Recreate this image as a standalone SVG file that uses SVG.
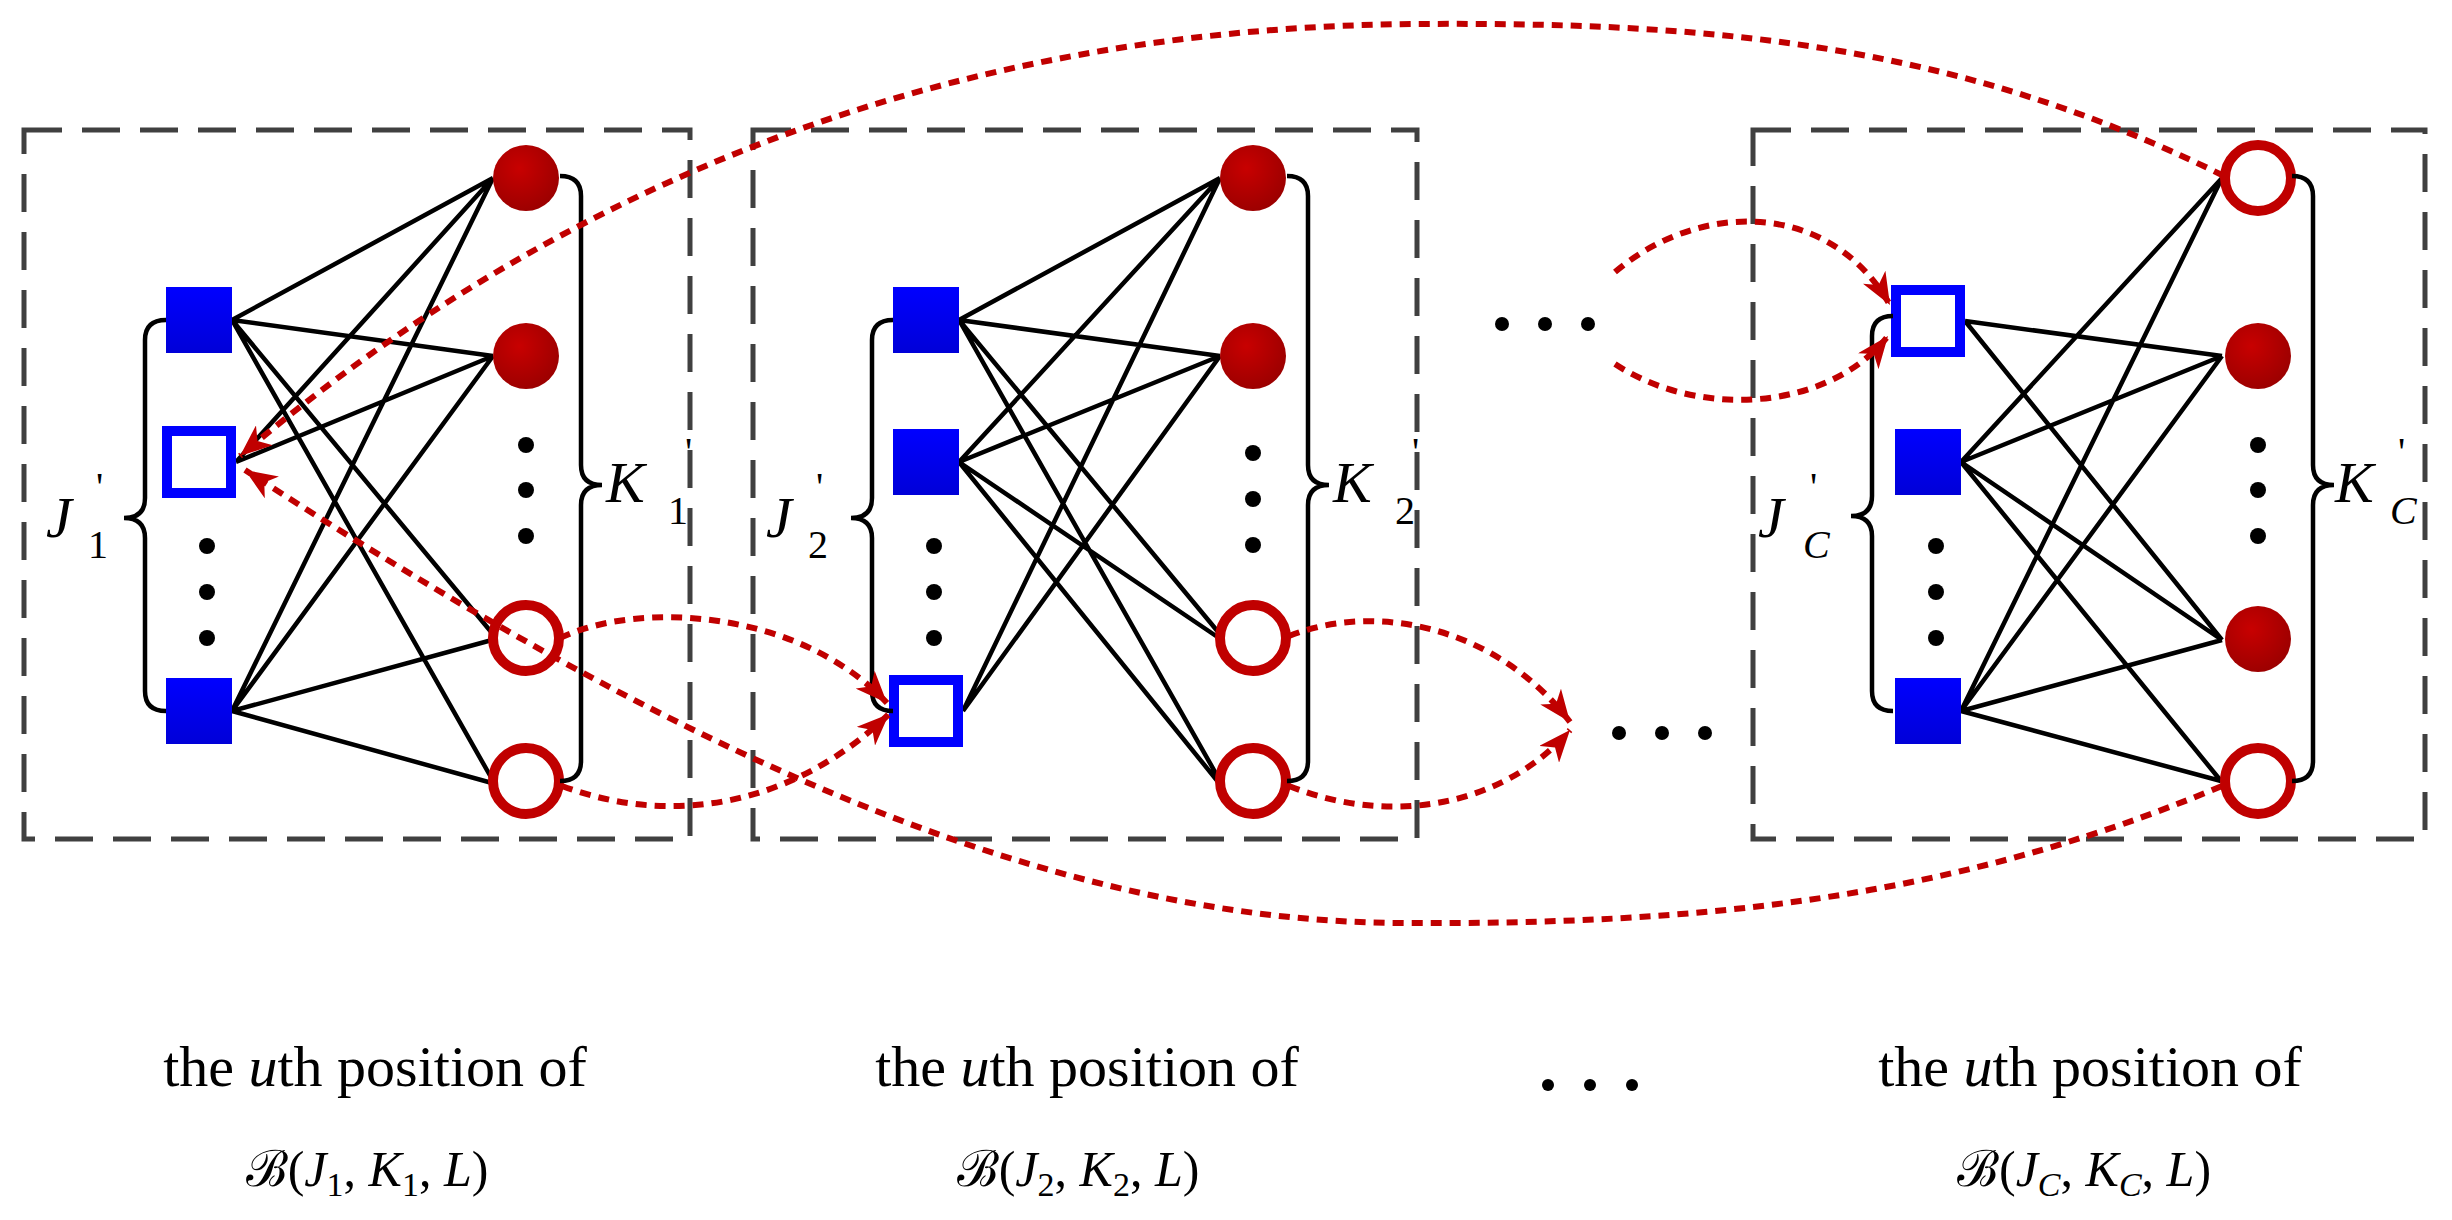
<svg xmlns="http://www.w3.org/2000/svg" width="2452" height="1220" viewBox="0 0 2452 1220">
<defs>
<radialGradient id="rg" cx="0.4" cy="0.35" r="0.7"><stop offset="0" stop-color="#C80000"/><stop offset="1" stop-color="#9A0000"/></radialGradient>
<linearGradient id="bg" x1="0" y1="0" x2="0" y2="1"><stop offset="0" stop-color="#0000FF"/><stop offset="1" stop-color="#0000D8"/></linearGradient>
<marker id="ah" markerUnits="userSpaceOnUse" markerWidth="34" markerHeight="26" refX="32" refY="13" orient="auto"><path d="M0,0 L32,13 L0,26 L9,13 z" fill="#C00000"/></marker>
</defs>
<style>
.box{fill:none;stroke:#404040;stroke-width:5;stroke-dasharray:38 20}
.e{stroke:#000;stroke-width:4.5;fill:none}
.br{stroke:#000;stroke-width:4.5;fill:none}
.fs{fill:url(#bg)}
.hs{fill:#fff;stroke:#0000FF;stroke-width:10}
.fc{fill:url(#rg)}
.hc{fill:#fff;stroke:#C00000;stroke-width:10}
.d{fill:#000}
.r{fill:none;stroke:#C00000;stroke-width:6;stroke-dasharray:11 8;marker-end:url(#ah)}
.lb{font-family:"Liberation Serif",serif;font-style:italic;font-size:58px}
.sb{font-family:"Liberation Serif",serif;font-size:40px}
.cap{font-family:"Liberation Serif",serif;font-size:58px;text-anchor:middle}
.fm{font-family:"Liberation Serif","DejaVu Serif",serif;font-size:50px;text-anchor:middle}
</style>

<!-- Block 1 -->
<g id="block1">
<rect class="box" x="24" y="130" width="666" height="709"/>
<g id="b1-edges">
<path class="e" d="M232,320 L493,178 M232,320 L493,356 M232,320 L492,633 M232,320 L492,779 M236,462 L493,178 M236,462 L493,356 M232,711 L493,178 M232,711 L493,356 M232,711 L492,640 M232,711 L492,783"/>
</g>
<g id="b1-j1"><rect class="fs" x="166" y="287" width="66" height="66"/></g>
<g id="b1-j2"><rect class="hs" x="167" y="431" width="64" height="62"/></g>
<g id="b1-j3"><rect class="fs" x="166" y="678" width="66" height="66"/></g>
<g id="b1-k1"><circle class="fc" cx="526" cy="178" r="33"/></g>
<g id="b1-k2"><circle class="fc" cx="526" cy="356" r="33"/></g>
<g id="b1-k3"><circle class="hc" cx="526" cy="638" r="33"/></g>
<g id="b1-k4"><circle class="hc" cx="526" cy="781" r="33"/></g>
<g class="d"><circle cx="207" cy="546" r="8"/><circle cx="207" cy="592" r="8"/><circle cx="207" cy="638" r="8"/><circle cx="526" cy="445" r="8"/><circle cx="526" cy="490" r="8"/><circle cx="526" cy="536" r="8"/></g>
<path class="br" d="M166,320 q-21,0 -21,20 V498 q0,20 -21,20 q21,0 21,20 V691 q0,20 21,20"/>
<path class="br" d="M560,176 q21,0 21,20 V465 q0,20 21,20 q-21,0 -21,20 V761 q0,20 -21,20"/>
<text class="lb" x="46" y="537">J</text><text class="sb" x="88" y="558">1</text><text class="sb" x="96" y="500">'</text>
<text class="lb" x="606" y="502">K</text><text class="sb" x="668" y="524">1</text><text class="sb" x="685" y="465">'</text>
</g>

<!-- Block 2 -->
<g id="block2">
<rect class="box" x="753" y="130" width="664" height="709"/>
<g id="b2-edges">
<path class="e" d="M959,320 L1220,178 M959,320 L1220,356 M959,320 L1219,633 M959,320 L1219,779 M959,462 L1220,178 M959,462 L1220,356 M959,462 L1219,638 M959,462 L1219,783 M963,711 L1220,178 M963,711 L1220,356"/>
</g>
<g id="b2-j1"><rect class="fs" x="893" y="287" width="66" height="66"/></g>
<g id="b2-j2"><rect class="fs" x="893" y="429" width="66" height="66"/></g>
<g id="b2-j3"><rect class="hs" x="894" y="680" width="64" height="62"/></g>
<g id="b2-k1"><circle class="fc" cx="1253" cy="178" r="33"/></g>
<g id="b2-k2"><circle class="fc" cx="1253" cy="356" r="33"/></g>
<g id="b2-k3"><circle class="hc" cx="1253" cy="638" r="33"/></g>
<g id="b2-k4"><circle class="hc" cx="1253" cy="781" r="33"/></g>
<g class="d"><circle cx="934" cy="546" r="8"/><circle cx="934" cy="592" r="8"/><circle cx="934" cy="638" r="8"/><circle cx="1253" cy="453" r="8"/><circle cx="1253" cy="499" r="8"/><circle cx="1253" cy="545" r="8"/></g>
<path class="br" d="M893,320 q-21,0 -21,20 V498 q0,20 -21,20 q21,0 21,20 V691 q0,20 21,20"/>
<path class="br" d="M1287,176 q21,0 21,20 V465 q0,20 21,20 q-21,0 -21,20 V761 q0,20 -21,20"/>
<text class="lb" x="766" y="537">J</text><text class="sb" x="808" y="558">2</text><text class="sb" x="816" y="500">'</text>
<text class="lb" x="333" y="502" transform="translate(1000,0)">K</text><text class="sb" x="1395" y="524">2</text><text class="sb" x="1412" y="465">'</text>
</g>

<!-- Block C -->
<g id="blockC">
<rect class="box" x="1753" y="130" width="672" height="709"/>
<g id="bC-edges">
<path class="e" d="M1965,321 L2222,356 M1965,321 L2222,640 M1961,462 L2222,178 M1961,462 L2222,356 M1961,462 L2222,640 M1961,462 L2221,781 M1961,711 L2222,178 M1961,711 L2222,356 M1961,711 L2222,640 M1961,711 L2221,781"/>
</g>
<g id="bC-j1"><rect class="hs" x="1896" y="290" width="64" height="62"/></g>
<g id="bC-j2"><rect class="fs" x="1895" y="429" width="66" height="66"/></g>
<g id="bC-j3"><rect class="fs" x="1895" y="678" width="66" height="66"/></g>
<g id="bC-k1"><circle class="hc" cx="2258" cy="178" r="33"/></g>
<g id="bC-k2"><circle class="fc" cx="2258" cy="356" r="33"/></g>
<g id="bC-k3"><circle class="fc" cx="2258" cy="639" r="33"/></g>
<g id="bC-k4"><circle class="hc" cx="2258" cy="781" r="33"/></g>
<g class="d"><circle cx="1936" cy="546" r="8"/><circle cx="1936" cy="592" r="8"/><circle cx="1936" cy="638" r="8"/><circle cx="2258" cy="445" r="8"/><circle cx="2258" cy="490" r="8"/><circle cx="2258" cy="536" r="8"/></g>
<path class="br" d="M1893,316 q-21,0 -21,20 V496 q0,20 -21,20 q21,0 21,20 V691 q0,20 21,20"/>
<path class="br" d="M2292,176 q21,0 21,20 V465 q0,20 21,20 q-21,0 -21,20 V761 q0,20 -21,20"/>
<text class="lb" x="1758" y="537">J</text><text class="sb" x="1803" y="558" font-style="italic">C</text><text class="sb" x="1810" y="500">'</text>
<text class="lb" x="2335" y="502">K</text><text class="sb" x="2390" y="524" font-style="italic">C</text><text class="sb" x="2398" y="465">'</text>
</g>

<!-- ellipses -->
<g id="ellipsis-top" class="d"><circle cx="1502" cy="324" r="7"/><circle cx="1545" cy="324" r="7"/><circle cx="1588" cy="324" r="7"/></g>
<g id="ellipsis-mid" class="d"><circle cx="1619" cy="733" r="7"/><circle cx="1662" cy="733" r="7"/><circle cx="1705" cy="733" r="7"/></g>

<!-- connectors -->
<g id="connectors">
<path class="r" d="M2224,176 C1950,40 1700,22 1413,24 C1000,28 600,150 240,456"/>
<path class="r" d="M2222,786 C1950,900 1700,925 1397,923 C1000,920 600,700 245,470"/>
<path class="r" d="M560,638 C640,600 800,610 887,703"/>
<path class="r" d="M562,786 C680,830 800,800 889,714"/>
<path class="r" d="M1289,636 C1380,600 1500,630 1570,722"/>
<path class="r" d="M1289,786 C1400,830 1510,800 1570,730"/>
<path class="r" d="M1615,272 C1700,200 1830,200 1890,305"/>
<path class="r" d="M1615,364 C1700,420 1830,410 1888,336"/>
</g>

<!-- captions -->
<g id="captions">
<text class="cap" x="375" y="1086">the <tspan font-style="italic">u</tspan>th position of</text>
<text class="cap" x="1087" y="1086">the <tspan font-style="italic">u</tspan>th position of</text>
<text class="cap" x="2090" y="1086">the <tspan font-style="italic">u</tspan>th position of</text>
<g class="d"><circle cx="1548" cy="1085" r="6"/><circle cx="1590" cy="1085" r="6"/><circle cx="1632" cy="1085" r="6"/></g>
<text class="fm" x="367" y="1186">ℬ(<tspan font-style="italic">J</tspan><tspan font-size="34" dy="10">1</tspan><tspan dy="-10">, </tspan><tspan font-style="italic">K</tspan><tspan font-size="34" dy="10">1</tspan><tspan dy="-10">, </tspan><tspan font-style="italic">L</tspan>)</text>
<text class="fm" x="1078" y="1186">ℬ(<tspan font-style="italic">J</tspan><tspan font-size="34" dy="10">2</tspan><tspan dy="-10">, </tspan><tspan font-style="italic">K</tspan><tspan font-size="34" dy="10">2</tspan><tspan dy="-10">, </tspan><tspan font-style="italic">L</tspan>)</text>
<text class="fm" x="2084" y="1186">ℬ(<tspan font-style="italic">J</tspan><tspan font-size="34" font-style="italic" dy="10">C</tspan><tspan dy="-10">, </tspan><tspan font-style="italic">K</tspan><tspan font-size="34" font-style="italic" dy="10">C</tspan><tspan dy="-10">, </tspan><tspan font-style="italic">L</tspan>)</text>
</g>
</svg>
